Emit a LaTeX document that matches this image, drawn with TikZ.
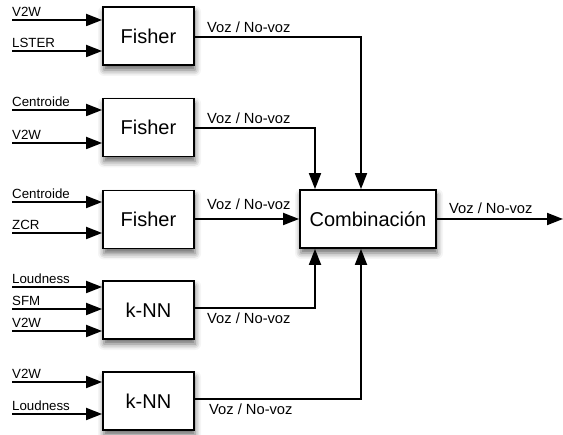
\documentclass[tikz,border=0pt]{standalone}
\usepackage{fontspec}
\setmainfont{Liberation Sans}
\usetikzlibrary{arrows.meta,shadows.blur,calc}
\begin{document}
\begin{tikzpicture}[x=1pt,y=-1pt,
  blk/.style={draw=black, line width=1.8pt, fill=white, minimum width=91pt, minimum height=58pt, inner sep=0pt,
    font=\fontsize{20}{24}\selectfont,
    blur shadow={shadow xshift=1pt, shadow yshift=-5pt, shadow blur radius=6pt, shadow opacity=60}},
  flow/.style={line width=1.8pt, -{Triangle[length=16pt,width=12pt]}},
  inlbl/.style={anchor=base west, inner sep=0pt, font=\fontsize{13.3}{16}\selectfont},
  outlbl/.style={anchor=base west, inner sep=0pt, font=\fontsize{14.7}{17}\selectfont}]
\useasboundingbox (0,0) rectangle (563,435);

% blocks
\node[blk] (f1) at (148.5,36) {Fisher};
\node[blk] (f2) at (148.5,127.5) {Fisher};
\node[blk] (f3) at (148.5,219.5) {Fisher};
\node[blk] (k1) at (148.5,310) {k-NN};
\node[blk] (k2) at (148.5,401) {k-NN};
\node[blk, minimum width=136pt] (cb) at (368,219) {Combinación};

% inputs
\foreach \nm/\yy/\txt/\bx in {a/20/V2W/f1, b/51/LSTER/f1,
    c/110/Centroide/f2, d/143/V2W/f2,
    e/202/Centroide/f3, f/233/ZCR/f3,
    g/287/Loudness/k1, h/309/SFM/k1, i/331/V2W/k1,
    j/382/V2W/k2, k/414/Loudness/k2} {
  \coordinate (in\nm) at (12,\yy);
  \draw[flow] (in\nm) -- (in\nm -| \bx.west);
  \node[inlbl] (lab\nm) at (12,\yy-3.5) {\txt};
}

% junction columns
\coordinate (cA) at (315,0);
\coordinate (cB) at (361,0);
\coordinate (outE) at (563,219);

% outputs
\draw[flow] (f1.east |- 0,37) -| (cB |- cb.north);
\draw[flow] (f2.east |- 0,128) -| (cA |- cb.north);
\draw[flow] (f3.east |- 0,219) -- (cb.west);
\draw[flow] (k1.east |- 0,308) -| (cA |- cb.south);
\draw[flow] (k2.east |- 0,399) -| (cB |- cb.south);
\draw[flow] (cb.east) -- (outE);

% output labels
\node[outlbl] (o1) at (207,33) {Voz / No-voz};
\node[outlbl] (o2) at (207,124) {Voz / No-voz};
\node[outlbl] (o3) at (207,210) {Voz / No-voz};
\node[outlbl] (o4) at (207,324) {Voz / No-voz};
\node[outlbl] (o5) at (209,415) {Voz / No-voz};
\node[outlbl] (o6) at (449,214) {Voz / No-voz};
\end{tikzpicture}
\end{document}
